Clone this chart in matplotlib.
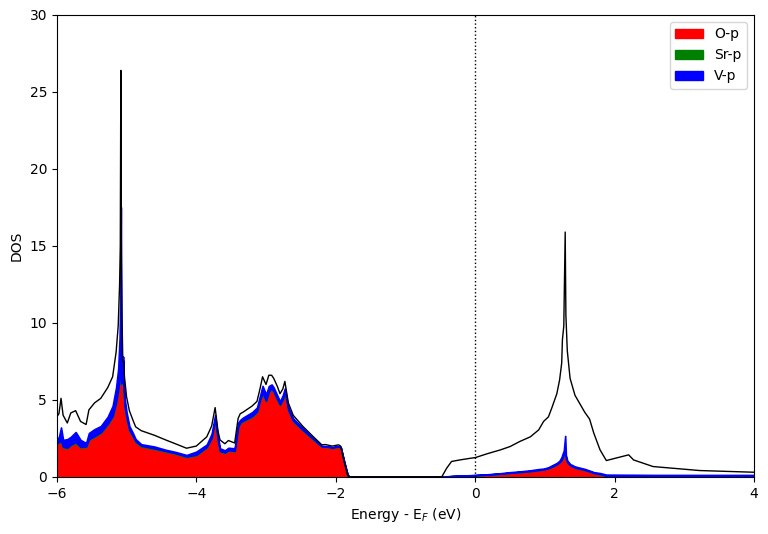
import matplotlib.pyplot as plt
import matplotlib.patches as mpatches
import numpy as np

# energy grid (eV, relative to E_F)
energy = [-6.00, -5.97, -5.94, -5.91, -5.85, -5.80, -5.73, -5.66, -5.58, -5.54,
          -5.46, -5.37, -5.27, -5.20, -5.15, -5.12, -5.10, -5.09, -5.082, -5.075,
          -5.06, -5.05, -5.04, -5.03, -5.00, -4.96, -4.91, -4.87, -4.79, -4.60,
          -4.44, -4.30, -4.14, -4.00, -3.85, -3.78, -3.73, -3.69, -3.66, -3.59,
          -3.54, -3.45, -3.40, -3.37, -3.33, -3.20, -3.13, -3.09, -3.05, -3.00,
          -2.96, -2.92, -2.89, -2.84, -2.80, -2.76, -2.73, -2.68, -2.61, -2.47,
          -2.32, -2.20, -2.15, -2.05, -1.96, -1.93, -1.88, -1.83, -1.80, -0.48,
          -0.41, -0.34, -0.22, -0.08, 0.00, 0.17, 0.36, 0.50, 0.64, 0.79,
          0.91, 0.98, 1.05, 1.10, 1.17, 1.21, 1.24, 1.25, 1.27, 1.29,
          1.30, 1.32, 1.36, 1.43, 1.57, 1.64, 1.70, 1.79, 1.88, 2.20,
          2.27, 2.55, 3.22, 4.00]

total_dos = [3.9, 4.1, 5.1, 4.0, 3.5, 4.15, 4.3, 3.6, 3.4, 4.35,
             4.8, 5.1, 5.8, 6.5, 8.1, 9.8, 12.5, 15.0, 26.4, 14.0,
             7.6, 7.5, 7.4, 6.5, 5.2, 4.3, 3.7, 3.25, 3.0, 2.7,
             2.4, 2.15, 1.86, 2.0, 2.6, 3.3, 4.5, 3.0, 2.4, 2.15,
             2.36, 2.2, 3.8, 4.1, 4.2, 4.6, 4.9, 5.65, 6.5, 6.0,
             6.6, 6.6, 6.4, 5.9, 5.4, 5.7, 6.2, 4.8, 4.0, 3.27,
             2.6, 2.08, 2.1, 2.0, 2.08, 2.0, 1.0, 0.13, 0.0, 0.0,
             0.56, 1.0, 1.1, 1.2, 1.25, 1.5, 1.75, 1.97, 2.3, 2.6,
             3.05, 3.6, 3.9, 4.5, 5.4, 6.3, 7.4, 8.9, 9.8, 15.9,
             10.5, 8.2, 6.4, 5.3, 4.2, 3.75, 2.84, 1.75, 1.06, 1.43,
             1.1, 0.67, 0.41, 0.3]

o_p = [2.15, 2.2, 2.3, 1.9, 1.85, 2.05, 2.2, 1.9, 1.93, 2.4,
       2.6, 2.85, 3.4, 3.9, 4.8, 5.6, 6.3, 6.8, 7.2, 6.0,
       6.2, 7.5, 5.6, 4.6, 3.8, 3.0, 2.6, 2.25, 1.97, 1.8,
       1.64, 1.5, 1.28, 1.4, 1.9, 2.5, 3.7, 2.3, 1.64, 1.55,
       1.7, 1.65, 3.2, 3.5, 3.6, 3.9, 4.2, 4.9, 5.4, 4.9,
       5.5, 5.7, 5.5, 5.0, 4.65, 5.0, 5.5, 4.3, 3.6, 3.0,
       2.4, 1.95, 1.95, 1.88, 1.95, 1.9, 0.95, 0.1, 0.0, 0.0,
       0.02, 0.04, 0.07, 0.09, 0.1, 0.14, 0.2, 0.26, 0.31, 0.37,
       0.44, 0.48, 0.56, 0.66, 0.82, 0.95, 1.1, 1.25, 1.45, 1.7,
       1.2, 0.95, 0.75, 0.6, 0.45, 0.35, 0.25, 0.18, 0.06, 0.03,
       0.03, 0.02, 0.02, 0.02]

sr_p = [0.05, 0.05, 0.06, 0.05, 0.05, 0.05, 0.06, 0.05, 0.05, 0.05,
        0.05, 0.05, 0.06, 0.06, 0.07, 0.07, 0.07, 0.07, 0.07, 0.07,
        0.06, 0.06, 0.06, 0.05, 0.05, 0.05, 0.05, 0.05, 0.05, 0.05,
        0.04, 0.04, 0.04, 0.04, 0.05, 0.05, 0.06, 0.05, 0.04, 0.04,
        0.04, 0.04, 0.05, 0.05, 0.05, 0.05, 0.05, 0.05, 0.06, 0.05,
        0.05, 0.05, 0.05, 0.05, 0.05, 0.05, 0.05, 0.04, 0.04, 0.04,
        0.04, 0.03, 0.03, 0.03, 0.03, 0.03, 0.02, 0.005, 0.0, 0.0,
        0.005, 0.005, 0.005, 0.005, 0.005, 0.005, 0.005, 0.005, 0.005, 0.005,
        0.005, 0.005, 0.005, 0.005, 0.005, 0.005, 0.005, 0.005, 0.005, 0.01,
        0.005, 0.005, 0.005, 0.005, 0.005, 0.005, 0.005, 0.005, 0.005, 0.005,
        0.005, 0.005, 0.005, 0.005]

v_p = [0.20, 0.35, 0.85, 0.45, 0.55, 0.50, 0.65, 0.45, 0.22, 0.40,
       0.45, 0.40, 0.45, 0.65, 0.95, 1.35, 2.65, 4.65, 10.25, 4.45,
       0.75, 0.25, 0.35, 0.55, 0.35, 0.25, 0.2, 0.15, 0.1, 0.12,
       0.08, 0.08, 0.1, 0.2, 0.15, 0.25, 0.25, 0.25, 0.17, 0.13,
       0.15, 0.16, 0.25, 0.15, 0.2, 0.25, 0.25, 0.25, 0.45, 0.4,
       0.35, 0.25, 0.25, 0.25, 0.2, 0.25, 0.2, 0.15, 0.15, 0.11,
       0.05, 0.03, 0.02, 0.02, 0.02, 0.02, 0.01, 0.01, 0.0, 0.0,
       0.01, 0.01, 0.01, 0.01, 0.02, 0.02, 0.03, 0.04, 0.04, 0.05,
       0.06, 0.05, 0.06, 0.08, 0.08, 0.1, 0.2, 0.2, 0.25, 0.95,
       0.2, 0.1, 0.08, 0.07, 0.06, 0.05, 0.05, 0.06, 0.08, 0.1,
       0.1, 0.1, 0.1, 0.1]

labels = ['O-p', 'Sr-p', 'V-p']
colors = ['red', 'green', 'blue']

E = np.array(energy)
pdos = [np.array(o_p), np.array(sr_p), np.array(v_p)]

fig = plt.figure(figsize=(7.68, 5.34), dpi=100)
ax = fig.add_subplot(111)
fig.subplots_adjust(left=0.074, right=0.982, top=0.972, bottom=0.107)

# stacked projected DOS
bottom = np.zeros_like(E)
for vals, c in zip(pdos, colors):
    ax.fill_between(E, bottom, bottom + vals, color=c, linewidth=1.2)
    bottom = bottom + vals

ax.plot(E, total_dos, color='black', linewidth=1)
ax.axvline(0, color='black', linestyle=':', linewidth=1)

ax.set_xlim(-6, 4)
ax.set_ylim(0, 30)
ax.set_xlabel('Energy - E$_F$ (eV)')
ax.set_ylabel('DOS')

handles = [mpatches.Patch(color=c, label=l) for c, l in zip(colors, labels)]
ax.legend(handles=handles, loc='upper right')

plt.savefig('out.png', dpi=100)
